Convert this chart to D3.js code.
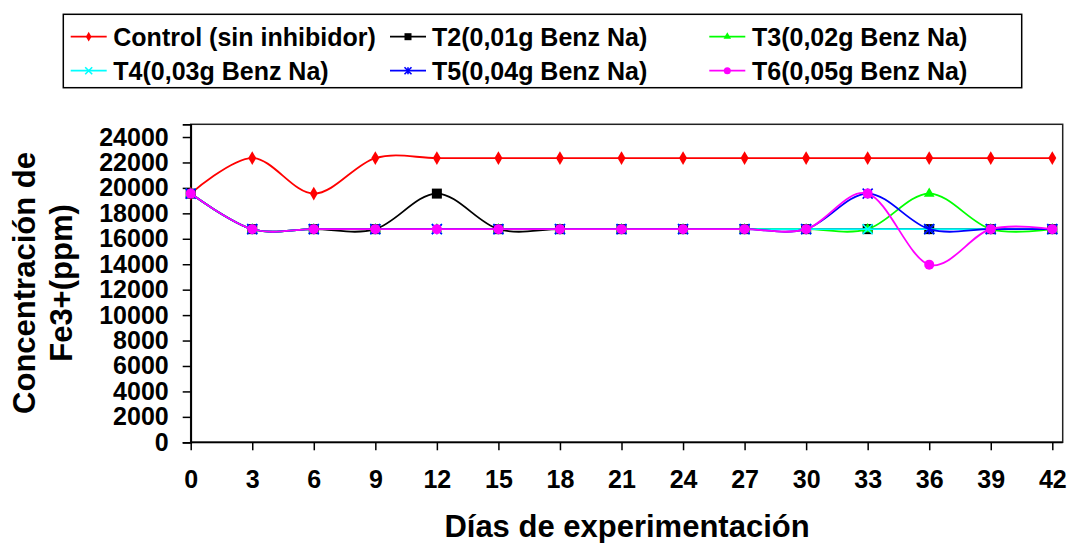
<!DOCTYPE html>
<html><head><meta charset="utf-8">
<script src="https://cdn.jsdelivr.net/npm/d3@7"></script>
<style>body{margin:0;background:#fff}svg{display:block}text{font-family:"Liberation Sans",Arial,sans-serif;font-weight:bold;fill:#000}</style>
</head><body><svg id="c" width="1068" height="543"></svg>
<script>
const days = [0,3,6,9,12,15,18,21,24,27,30,33,36,39,42];
const control = [19552,22345,19552,22345,22345,22345,22345,22345,22345,22345,22345,22345,22345,22345,22345];
const t2 = [19552,16759,16759,16759,19552,16759,16759,16759,16759,16759,16759,16759,16759,16759,16759];
const t3 = [19552,16759,16759,16759,16759,16759,16759,16759,16759,16759,16759,16759,19552,16759,16759];
const t4 = [19552,16759,16759,16759,16759,16759,16759,16759,16759,16759,16759,16759,16759,16759,16759];
const t5 = [19552,16759,16759,16759,16759,16759,16759,16759,16759,16759,16759,19552,16759,16759,16759];
const t6 = [19552,16759,16759,16759,16759,16759,16759,16759,16759,16759,16759,19552,13966,16759,16759];
const seriesNames = ["Control (sin inhibidor)","T2(0,01g Benz Na)","T3(0,02g Benz Na)","T4(0,03g Benz Na)","T5(0,04g Benz Na)","T6(0,05g Benz Na)"];
const yTicks = [0,2000,4000,6000,8000,10000,12000,14000,16000,18000,20000,22000,24000];

const seriesValues = [control,t2,t3,t4,t5,t6];
const colors = ["#FF0000","#000000","#00FF00","#00FFFF","#0000FF","#FF00FF"];
const symbols = ["diamond","square","triangle","x","star","circle"];

const svg = d3.select("#c");
const L=190.7, R=1062.7, T=124.3, B=442.3;
const x = d3.scaleLinear().domain([0,42]).range([L,1052.3]);
const y = d3.scaleLinear().domain([0,25000]).range([B,T]);

// plot frame
svg.append("rect").attr("x",L).attr("y",T).attr("width",R-L).attr("height",B-T)
  .attr("fill","none").attr("stroke","#222").attr("stroke-width",1.5);

// y axis
const yAxis = d3.axisLeft(y).tickValues(yTicks).tickSize(8).tickPadding(14).tickFormat(d=>d);
const gy = svg.append("g").attr("transform",`translate(${L},0)`).call(yAxis);
gy.select(".domain").attr("stroke","#000").attr("stroke-width",1.8);
gy.selectAll(".tick line").attr("stroke","#000").attr("stroke-width",1.5);
gy.selectAll(".tick text").style("font-size","25px").style("font-family","Liberation Sans, Arial, sans-serif").style("font-weight","bold").attr("fill","#000");

// x axis
const xAxis = d3.axisBottom(x).tickValues(days).tickSize(8).tickPadding(20).tickFormat(d=>d);
const gx = svg.append("g").attr("transform",`translate(0,${B})`).call(xAxis);
gx.select(".domain").attr("d",`M${L},0H${R}`).attr("stroke","#000").attr("stroke-width",1.8);
gx.selectAll(".tick line").attr("stroke","#000").attr("stroke-width",1.5);
gx.selectAll(".tick text").style("font-size","25px").style("font-family","Liberation Sans, Arial, sans-serif").style("font-weight","bold").attr("fill","#000");

// axis titles
svg.append("text").attr("x",627).attr("y",537).attr("text-anchor","middle").style("font-size","31px").text("Días de experimentación");
svg.append("text").attr("transform","translate(35,283) rotate(-90)").attr("text-anchor","middle").style("font-size","31px").text("Concentración de");
svg.append("text").attr("transform","translate(72,283) rotate(-90)").attr("text-anchor","middle").style("font-size","31px").text("Fe3+(ppm)");

function marker(g, type, color, s){
  if(type==="diamond"){ g.append("path").attr("d",d3.symbol(d3.symbolDiamond, s*s*0.55)()).attr("fill",color); }
  else if(type==="square"){ g.append("rect").attr("x",-s/2).attr("y",-s/2).attr("width",s).attr("height",s).attr("fill",color); }
  else if(type==="triangle"){ g.append("path").attr("d",d3.symbol(d3.symbolTriangle, s*s*0.5)()).attr("fill",color); }
  else if(type==="x"){ const h=s/2; g.append("path").attr("d",`M${-h},${-h}L${h},${h}M${-h},${h}L${h},${-h}`).attr("stroke",color).attr("stroke-width",1.6); }
  else if(type==="star"){ const h=s/2; g.append("path").attr("d",`M${-h},${-h}L${h},${h}M${-h},${h}L${h},${-h}M0,${-h}V${h}`).attr("stroke",color).attr("stroke-width",1.6); }
  else if(type==="circle"){ g.append("circle").attr("r",s/2).attr("fill",color); }
}

const line = d3.line().x((d,i)=>x(days[i])).y(d=>y(d)).curve(d3.curveCardinal.tension(0));
seriesValues.forEach((vals,k)=>{
  const g = svg.append("g");
  g.append("path").attr("d",line(vals)).attr("fill","none").attr("stroke",colors[k]).attr("stroke-width",1.8);
  vals.forEach((v,i)=>{
    const m = g.append("g").attr("transform",`translate(${x(days[i])},${y(v)})`);
    marker(m, symbols[k], colors[k], 10);
  });
});

// legend
svg.append("rect").attr("x",63.3).attr("y",14.3).attr("width",1021.7-63.3).attr("height",87.7-14.3)
  .attr("fill","#fff").attr("stroke","#000").attr("stroke-width",1.5);
const legCols = [[70.7,113.3],[390,432],[709.3,752]];
const legRows = [36.7,70.7];
seriesNames.forEach((name,k)=>{
  const col = legCols[k%3], ry = legRows[Math.floor(k/3)];
  const g = svg.append("g");
  g.append("line").attr("x1",col[0]).attr("x2",col[0]+36).attr("y1",ry).attr("y2",ry).attr("stroke",colors[k]).attr("stroke-width",1.8);
  const m = g.append("g").attr("transform",`translate(${col[0]+18},${ry})`);
  marker(m, symbols[k], colors[k], 7);
  g.append("text").attr("x",col[1]).attr("y",ry+9).style("font-size","25px").text(name);
});
</script></body></html>
